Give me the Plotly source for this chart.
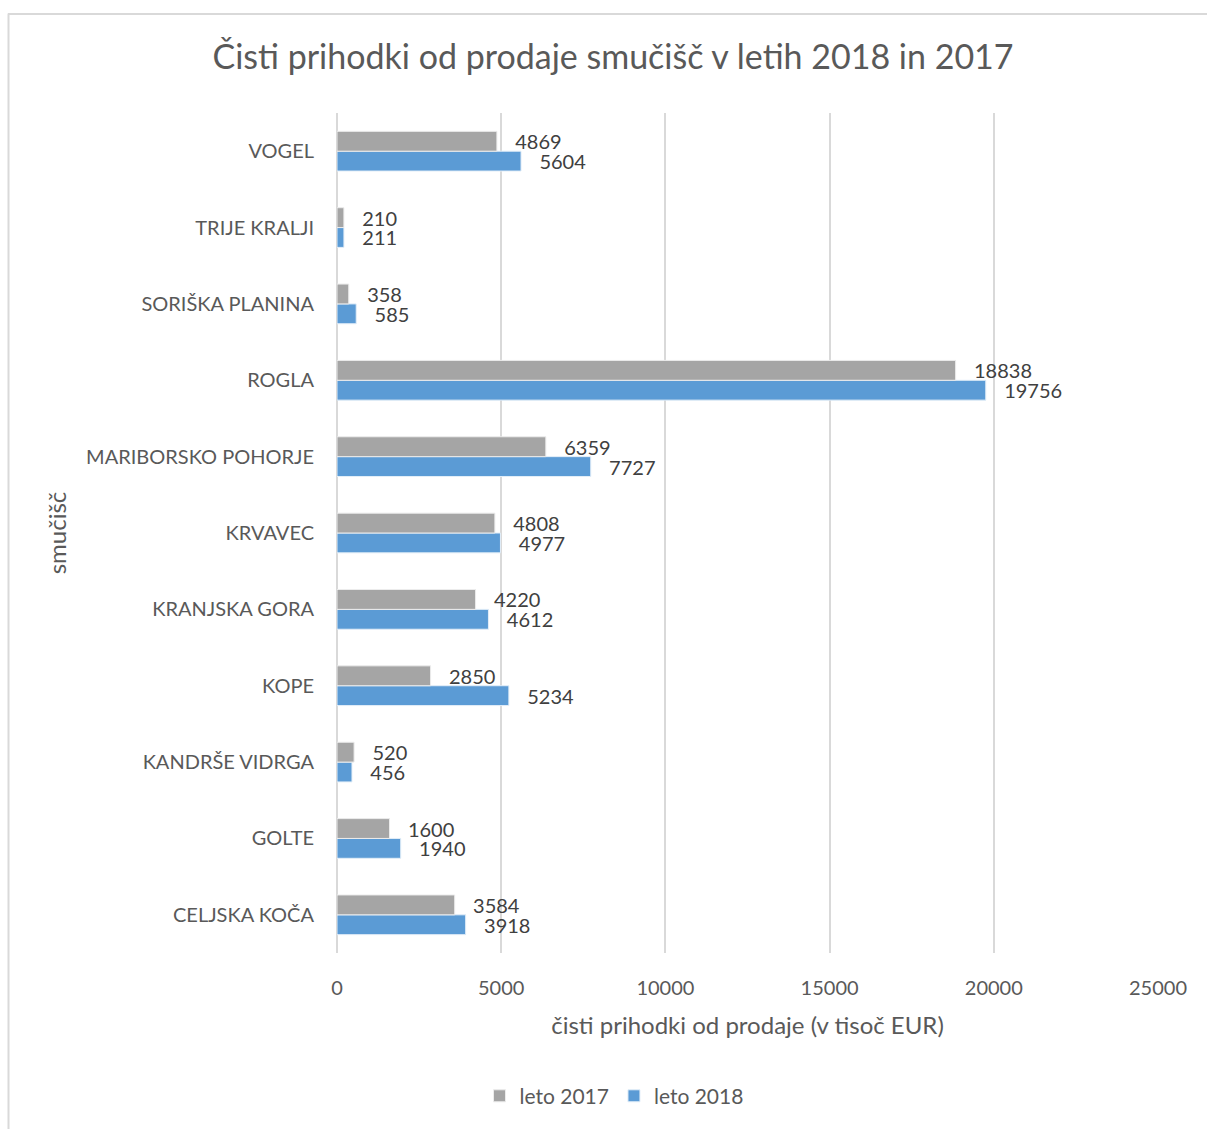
import plotly.graph_objects as go

# Ski resorts, listed bottom to top as they appear on the category axis
resorts = [
    "CELJSKA KOČA", "GOLTE", "KANDRŠE VIDRGA", "KOPE", "KRANJSKA GORA",
    "KRVAVEC", "MARIBORSKO POHORJE", "ROGLA", "SORIŠKA PLANINA",
    "TRIJE KRALJI", "VOGEL",
]
# Net sales revenue (thousand EUR)
revenue_2017 = [3584, 1600, 520, 2850, 4220, 4808, 6359, 18838, 358, 210, 4869]
revenue_2018 = [3918, 1940, 456, 5234, 4612, 4977, 7727, 19756, 585, 211, 5604]

x_ticks = [0, 5000, 10000, 15000, 20000, 25000]

FONT = "Lato, Open Sans, sans-serif"
GRID = "#d9d9d9"
TEXT = "#595959"
LABEL = "#404040"

fig = go.Figure()

# 2018 trace first so it sits below the 2017 bar within each group
fig.add_trace(go.Bar(
    name="leto 2018", y=resorts, x=revenue_2018, orientation="h",
    marker=dict(color="#5b9bd5", line=dict(color="#e3eef8", width=1)),
    text=revenue_2018, texttemplate="   %{x:d}", textposition="outside",
    textfont=dict(family=FONT, size=20, color=LABEL),
    constraintext="none", cliponaxis=False, legendrank=2,
))
fig.add_trace(go.Bar(
    name="leto 2017", y=resorts, x=revenue_2017, orientation="h",
    marker=dict(color="#a5a5a5", line=dict(color="#ececec", width=1)),
    text=revenue_2017, texttemplate="   %{x:d}", textposition="outside",
    textfont=dict(family=FONT, size=20, color=LABEL),
    constraintext="none", cliponaxis=False, legendrank=1,
))

# Light frame around the chart area
L, R, T, B = 337, 1158, 113, 958
W, H = 1208, 1129
px = lambda p: (p - L) / (R - L)
py = lambda p: (B - p) / (B - T)
fig.add_shape(type="line", xref="paper", yref="paper",
              x0=px(8), x1=px(1207), y0=py(13.5), y1=py(13.5),
              line=dict(color=GRID, width=2))
fig.add_shape(type="line", xref="paper", yref="paper",
              x0=px(8.5), x1=px(8.5), y0=py(13), y1=py(1135),
              line=dict(color=GRID, width=2))

fig.update_layout(
    width=W, height=H,
    margin=dict(l=L, r=W - R, t=T, b=H - B),
    paper_bgcolor="white", plot_bgcolor="white",
    barmode="group", bargap=0.48, bargroupgap=0,
    font=dict(family=FONT, color=TEXT),
    title=dict(text="Čisti prihodki od prodaje smučišč v letih 2018 in 2017",
               x=613 / W, xanchor="center", y=1 - 57 / H, yanchor="middle",
               font=dict(size=34, color=TEXT)),
    xaxis=dict(range=[0, 25000], tickvals=x_ticks, ticktext=[str(v) for v in x_ticks],
               showgrid=True, gridcolor=GRID, gridwidth=2,
               zeroline=True, zerolinecolor=GRID, zerolinewidth=2,
               showline=False, ticks="", ticklabelstandoff=21,
               tickfont=dict(size=20, color=TEXT),
               title=dict(text="čisti prihodki od prodaje (v tisoč EUR)",
                          font=dict(size=24, color=TEXT), standoff=19)),
    yaxis=dict(categoryorder="array", categoryarray=resorts,
               showgrid=False, showline=False, ticks="", ticklabelstandoff=22,
               tickfont=dict(size=20, color=TEXT),
               title=dict(text="smučišč", font=dict(size=24, color=TEXT), standoff=12)),
    legend=dict(orientation="h", x=px(614), xanchor="center",
                y=py(1102), yanchor="middle", traceorder="normal",
                font=dict(size=21, color=TEXT), itemwidth=30),
)

fig.write_html("out.html")
